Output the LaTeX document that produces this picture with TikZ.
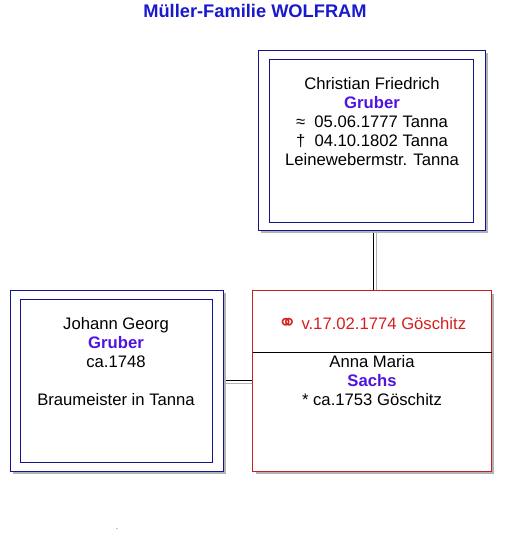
\documentclass[tikz,border=0pt]{standalone}
\usepackage{fontspec}
\setmainfont{Liberation Sans}
\newfontfamily\symfont{DejaVu Sans}
\usepackage{xcolor}
\usepackage{tikz}
\usetikzlibrary{positioning, shadows, calc}

\definecolor{navyline}{RGB}{20,20,140}
\definecolor{marrred}{RGB}{200,30,35}
\definecolor{redtext}{RGB}{215,30,30}
\definecolor{surname}{RGB}{80,20,225}
\definecolor{titleblue}{RGB}{25,25,205}
\definecolor{shadowgray}{RGB}{178,178,185}

\begin{document}
\begin{tikzpicture}[
    x=0.75pt, y=-0.75pt,
    outerbox/.style={rectangle, draw=navyline, line width=0.75pt, fill=white,
        drop shadow={shadow xshift=2.25pt, shadow yshift=-2.25pt, fill=shadowgray, opacity=1}},
    innerbox/.style={rectangle, draw=navyline, line width=0.75pt},
    marrbox/.style={rectangle, line width=0.75pt, fill=white,
        minimum width=178.5pt, minimum height=135pt,
        drop shadow={shadow xshift=2.25pt, shadow yshift=-2.25pt, fill=shadowgray, opacity=1}},
    person/.style={align=center, inner sep=0pt, anchor=north, font=\fontsize{12.5}{14.25}\selectfont},
    link/.style={line width=0.75pt, black},
    linkshade/.style={line width=0.75pt, shadowgray}
]
    \useasboundingbox (0,0) rectangle (510,551);

    \node[font=\bfseries\fontsize{13.7}{15}\selectfont, text=titleblue] (title) at (255,11) {Müller-Familie WOLFRAM};

    % connectors first, boxes over them
    \coordinate (up) at (373,225);
    \coordinate (side) at (220,380);
    \draw[linkshade] ($(up)+(3,3)$) -- ($(up)+(3,66)$);
    \draw[link] (up) -- ++(0,66);
    \draw[linkshade] ($(side)+(3,3)$) -- ($(side)+(35,3)$);
    \draw[link] (side) -- ++(35,0);

    % father of the husband
    \node[outerbox, minimum width=170.25pt, minimum height=135pt] (cfout) at (371.5,140) {};
    \node[innerbox, minimum width=153pt, minimum height=122.25pt] (cfin) at (371,140.5) {};
    \node[person] (cf) at (372,77) {Christian Friedrich\\
        \textcolor{surname}{\textbf{Gruber}}\\
        ≈ \ 05.06.1777 Tanna\\
        † \ 04.10.1802 Tanna\\
        Leinewebermstr. Tanna};

    % husband
    \node[outerbox, minimum width=159.75pt, minimum height=135.75pt] (jgout) at (116.5,380.5) {};
    \node[innerbox, minimum width=144pt, minimum height=122.25pt] (jgin) at (116,380.5) {};
    \node[person] (jg) at (116,317) {Johann Georg\\
        \textcolor{surname}{\textbf{Gruber}}\\
        ca.1748\\[14.25pt]
        Braumeister in Tanna};

    % marriage and wife
    \node[marrbox] (marr) at (372,381) {};
    \draw[marrred, line width=0.75pt] (marr.north west) rectangle (marr.south east);
    \coordinate (div) at (372,352);
    \draw[link] (div -| marr.west) -- (div -| marr.east);
    \node[font=\fontsize{12.5}{14.25}\selectfont, text=redtext] (wed) at (372,324) {{\symfont\fontsize{17}{17}\selectfont\raisebox{-0.3pt}{⚭}} v.17.02.1774 Göschitz};
    \node[person] (am) at (372,355) {Anna Maria\\
        \textcolor{surname}{\textbf{Sachs}}\\
        * ca.1753 Göschitz};

    \node[inner sep=0pt, font=\tiny] (dot) at (117,529) {.};
\end{tikzpicture}
\end{document}
